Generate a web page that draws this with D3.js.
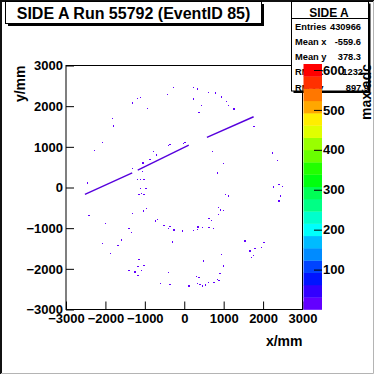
<!DOCTYPE html>
<html>
<head>
<meta charset="utf-8">
<script src="https://cdn.jsdelivr.net/npm/d3@7"></script>
<style>
  body { margin: 0; background: #fff; }
  text { font-family: "Liberation Sans", Arial, Helvetica, sans-serif; font-weight: bold; }
</style>
</head>
<body>
<svg id="chart" width="375" height="375"></svg>
<script>
const titleText = "SIDE A Run 55792 (EventID 85)";
const statsTitle = "SIDE A";
const statsLabels = ["Entries", "Mean x", "Mean y", "RMS x", "RMS y"];
const statsValues = ["430966", "-559.6", "378.3", "1232", "897.9"];
const xTicks = [-3000, -2000, -1000, 0, 1000, 2000, 3000];
const yTicks = [-3000, -2000, -1000, 0, 1000, 2000, 3000];
const zTicks = [100, 200, 300, 400, 500, 600];
const zMax = 615;
const nContours = 20;

// straight tracks: x1, y1, x2, y2 (mm), adc
const tracks = [
    [-2520, -170, -1320, 360, 20],
    [-1180, 425, 115, 1040, 20],
    [575, 1230, 1760, 1740, 20]
];

// single hits: x, y (mm), adc
const hits = [
    [-280, 2460, 15], [-430, 2290, 15], [-1105, 2220, 15], [-1190, 2190, 15],
    [-1320, 2080, 15], [-940, 1950, 15], [-1815, 1700, 15], [-1800, 1510, 15],
    [-2070, 1110, 15], [-2280, 915, 15], [-2460, 110, 15], [-390, 1040, 25],
    [-360, 1060, 25], [-10, 1080, 25], [20, 1100, 25], [-785, 890, 15],
    [-700, 800, 15], [-870, 685, 15], [-1045, 600, 15], [-1320, 470, 15],
    [-1065, 390, 15], [-1180, 190, 15], [-1105, 190, 15], [-1020, 200, 15],
    [245, 2450, 15], [330, 2420, 15], [605, 2340, 15], [800, 2325, 15],
    [230, 2175, 15], [940, 2225, 15], [1075, 2120, 15], [435, 2010, 15],
    [1120, 2010, 15], [1260, 1930, 15], [375, 1850, 15], [1770, 1505, 15],
    [710, 890, 15], [990, 585, 15], [840, 355, 15], [2235, 850, 15],
    [2360, 660, 15], [2260, 10, 15], [2405, 70, 15], [2490, 30, 15],
    [-1105, -30, 15], [-970, -30, 15], [-1150, -165, 15], [-1080, -145, 25],
    [-1020, -165, 15], [-1040, -580, 25], [-955, -520, 25], [-1320, -635, 15],
    [-2415, -685, 15], [-725, -825, 25], [-685, -780, 25], [-1995, -880, 15],
    [-515, -930, 15], [-360, -965, 15], [-405, -1015, 15], [-260, -1045, 15],
    [-50, -1070, 15], [-1400, -1005, 15], [-1335, -1110, 15], [-305, -1340, 15],
    [-1595, -1290, 15], [-1680, -1420, 15], [-2080, -1370, 15], [-1865, -1620, 15],
    [-1150, -1765, 15], [-1020, -1915, 15], [-1175, -1950, 15], [-1400, -2035, 15],
    [-1250, -2080, 15], [-1080, -2035, 15], [-1175, -2160, 15], [-405, -2095, 15],
    [-595, -2355, 15], [-360, -2380, 15],
    [1050, -165, 15], [1120, -210, 15], [2445, -210, 15], [2405, -330, 15],
    [865, -495, 15], [925, -555, 15], [990, -560, 15], [865, -660, 15],
    [630, -765, 15], [685, -805, 15], [735, -1015, 15], [350, -970, 15],
    [330, -1030, 15], [230, -1050, 15], [460, -990, 15], [630, -990, 15],
    [1540, -1315, 15], [1670, -1560, 15], [1795, -1495, 15], [2025, -1355, 15],
    [1965, -1480, 15], [1750, -1665, 15], [1700, -1725, 15], [940, -1650, 15],
    [485, -1805, 15], [990, -1930, 15], [905, -2120, 15], [315, -2195, 15],
    [375, -2220, 15], [840, -2255, 15], [880, -2280, 15], [755, -2340, 15],
    [330, -2355, 15], [400, -2380, 15], [460, -2420, 15], [605, -2340, 15],
    [545, -2400, 15], [120, -2420, 15]
];

const svg = d3.select("#chart");
const frame = {left: 66, right: 302.5, top: 65.5, bottom: 309.5};
const pal = {left: 303.5, right: 322, top: 64};

const x = d3.scaleLinear().domain([-3000, 3000]).range([frame.left, frame.right]);
const y = d3.scaleLinear().domain([-3000, 3000]).range([frame.bottom, frame.top]);
const z = d3.scaleLinear().domain([0, zMax]).range([frame.bottom, pal.top]);

// ROOT "pretty" palette, 50 colours violet -> red, picked for 20 contours
const palette = d3.range(50).map(i => d3.hsl(280 - (i + 1) * 5.6, 1, 0.5).formatHex());
const step = zMax / nContours;
const bandColor = j => palette[Math.floor((j + 0.99) * 50 / nContours)];
const colorOf = v => bandColor(Math.min(nContours - 1, Math.floor(v / step)));

// canvas border
svg.append("rect").attr("width", 375).attr("height", 375).attr("fill", "#fff");
svg.append("path").attr("d", "M1,374V1H374").attr("fill", "none").attr("stroke", "#111").attr("stroke-width", 2);
svg.append("path").attr("d", "M1,373.5H373.5V1").attr("fill", "none").attr("stroke", "#b4b4b4").attr("stroke-width", 1);

// data
const binW = x(30) - x(0), binH = y(0) - y(30);
svg.append("g").selectAll("rect")
    .data(hits)
    .enter()
    .append("rect")
        .attr("x", d => x(d[0]) - binW / 2)
        .attr("y", d => y(d[1]) - binH / 2)
        .attr("width", binW)
        .attr("height", binH)
        .attr("shape-rendering", "crispEdges")
        .attr("fill", d => colorOf(d[2]));

svg.append("g").selectAll("line")
    .data(tracks)
    .enter()
    .append("line")
        .attr("x1", d => x(d[0]))
        .attr("y1", d => y(d[1]))
        .attr("x2", d => x(d[2]))
        .attr("y2", d => y(d[3]))
        .attr("stroke", d => d3.color(colorOf(d[4])).darker(0.4))
        .attr("stroke-width", 1.4);

// frame + axes
svg.append("rect")
    .attr("x", frame.left).attr("y", frame.top)
    .attr("width", frame.right - frame.left).attr("height", frame.bottom - frame.top)
    .attr("fill", "none").attr("stroke", "#000");

const minor = d3.range(-3000, 3001, 200);

const gx = svg.append("g").attr("transform", "translate(0," + frame.bottom + ")");
gx.call(d3.axisBottom(x).tickValues(minor).tickSize(-4).tickFormat(""));
gx.call(d3.axisBottom(x).tickValues(xTicks).tickSize(-8).tickPadding(4).tickFormat(d3.format("d")));

const gy = svg.append("g").attr("transform", "translate(" + frame.left + ",0)");
gy.call(d3.axisLeft(y).tickValues(minor).tickSize(-4).tickFormat(""));
gy.call(d3.axisLeft(y).tickValues(yTicks).tickSize(-8).tickPadding(3).tickFormat(d3.format("d")));

svg.selectAll(".domain").remove();
svg.selectAll(".tick line").attr("stroke", "#000");
svg.selectAll(".tick text").attr("fill", "#000").style("font-size", "13px").style("font-family", "Liberation Sans, Arial, sans-serif").style("font-weight", "bold");

svg.append("text").attr("x", frame.right).attr("y", 346).attr("text-anchor", "end")
    .style("font-size", "14px").text("x/mm");
svg.append("text").attr("transform", "translate(25," + frame.top + ")rotate(-90)")
    .attr("text-anchor", "end").style("font-size", "14px").text("y/mm");

// stats box
const sb = {x: 291.5, y: 1.5, w: 77, h: 89.5};
svg.append("rect").attr("x", sb.x + 2).attr("y", sb.y + 2).attr("width", sb.w).attr("height", sb.h).attr("fill", "#000");
svg.append("rect").attr("x", sb.x).attr("y", sb.y).attr("width", sb.w).attr("height", sb.h)
    .attr("fill", "#fff").attr("stroke", "#000");
svg.append("line").attr("x1", sb.x).attr("x2", sb.x + sb.w).attr("y1", 18.5).attr("y2", 18.5).attr("stroke", "#000");
svg.append("text").attr("x", 329).attr("y", 16.5).attr("text-anchor", "middle")
    .style("font-size", "12px").text(statsTitle);
const rowY = d3.scalePoint().domain(statsLabels).range([30, 90.5]);
svg.append("g").selectAll("text").data(statsLabels).enter().append("text")
    .attr("x", 295).attr("y", d => rowY(d)).style("font-size", "9.3px").text(d => d);
svg.append("g").selectAll("text").data(statsValues).enter().append("text")
    .attr("x", (d, i) => i === 3 ? 363 : (i === 4 ? 369 : 361))
    .attr("y", (d, i) => rowY(statsLabels[i]))
    .attr("text-anchor", "end").style("font-size", "9.3px").text(d => d);

// palette
svg.append("g").selectAll("rect")
    .data(d3.range(nContours))
    .enter()
    .append("rect")
        .attr("x", pal.left)
        .attr("y", j => z((j + 1) * step))
        .attr("width", pal.right - pal.left)
        .attr("height", j => z(j * step) - z((j + 1) * step) + 0.3)
        .attr("fill", j => bandColor(j));

const gz = svg.append("g").attr("transform", "translate(" + pal.right + ",0)");
gz.call(d3.axisRight(z).tickValues(zTicks).tickSize(-8).tickPadding(1).tickFormat(d3.format("d")));
gz.select(".domain").remove();
gz.selectAll(".tick line").attr("stroke", "#000");
gz.selectAll(".tick text").attr("fill", "#000").style("font-size", "13px").style("font-family", "Liberation Sans, Arial, sans-serif").style("font-weight", "bold");

svg.append("text").attr("transform", "translate(371,64)rotate(-90)")
    .attr("text-anchor", "end").style("font-size", "14px").text("max adc");

// title box
const tb = {x: 5.5, y: 1.5, w: 256, h: 22};
svg.append("rect").attr("x", tb.x + 2.5).attr("y", tb.y + 2.5).attr("width", tb.w).attr("height", tb.h).attr("fill", "#000");
svg.append("rect").attr("x", tb.x).attr("y", tb.y).attr("width", tb.w).attr("height", tb.h)
    .attr("fill", "#fff").attr("stroke", "#000");
svg.append("text").attr("x", tb.x + tb.w / 2).attr("y", 19).attr("text-anchor", "middle")
    .style("font-size", "16px").text(titleText);
</script>
</body>
</html>
